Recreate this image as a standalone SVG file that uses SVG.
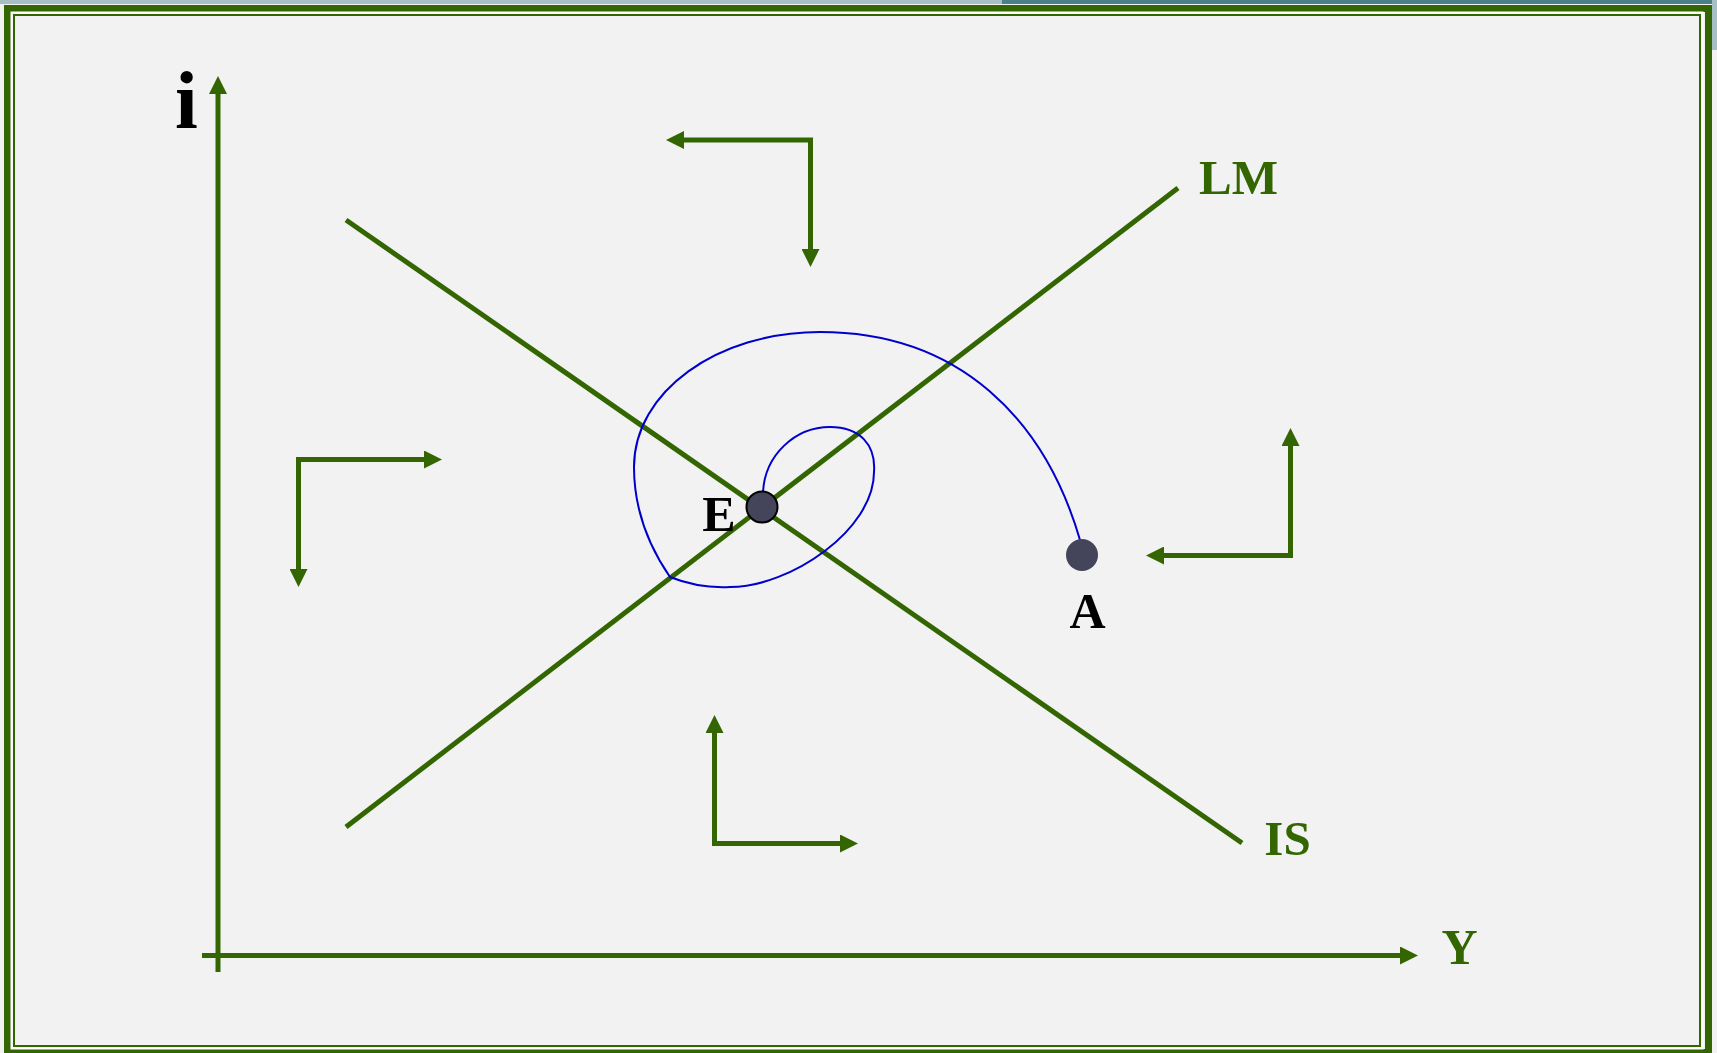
<svg xmlns="http://www.w3.org/2000/svg" width="1717" height="1053" viewBox="0 0 1717 1053">
<defs>
<style>
.ln{stroke:#336600;stroke-width:5;fill:none}
.arr{stroke:#336600;stroke-width:5;fill:none;marker-end:url(#ah)}
.arr2{stroke:#336600;stroke-width:5;fill:none;marker-start:url(#ah);marker-end:url(#ah)}
.lbl{font-family:"Liberation Serif","Times New Roman",serif;font-weight:bold;text-anchor:middle}
.g{fill:#336600}
.k{fill:#000000}
.dot{fill:#44445a}
</style>
<marker id="ah" viewBox="0 -9 18 18" refX="0" refY="0" markerWidth="18" markerHeight="18" markerUnits="userSpaceOnUse" orient="auto-start-reverse">
<path d="M0,-9 L18,0 L0,9 Z" fill="#336600"/>
</marker>
</defs>
<rect x="0" y="0" width="1717" height="1053" fill="#f2f2f2"/>
<rect x="0" y="0" width="1002" height="4" fill="#a5bfc4"/>
<rect x="1002" y="0" width="715" height="4" fill="#4a8089"/>
<rect x="1712" y="0" width="5" height="50" fill="#a5bfc4"/>
<g id="frame">
<rect x="7.5" y="8.5" width="1701" height="1044" fill="none" stroke="#336600" stroke-width="7"/>
<rect x="11.5" y="12.5" width="1691" height="1036" fill="none" stroke="#ffffff" stroke-width="2"/>
<rect x="14" y="15" width="1686" height="1031" fill="none" stroke="#336600" stroke-width="2"/>
</g>
<g id="axes">
<line class="arr" x1="218" y1="972" x2="218" y2="94"/>
<line class="arr" x1="202" y1="955.5" x2="1400" y2="955.5"/>
</g>
<g id="curves">
<line id="IS-curve" class="ln" x1="346" y1="220" x2="1242" y2="843"/>
<line id="LM-curve" class="ln" x1="346" y1="827" x2="1178" y2="188"/>
</g>
<g id="connectors">
<path id="adjust-path" d="M1080,540 C1045,420 960,332 820,332 C717,332 634,392 634,467 C634,510 648,545 670,577 C690,585 710,588 730,587 C790,587 874,530 874,472 C876,445 860,427 830,427 C795,427 765,455 763,492" fill="none" stroke="#0000cc" stroke-width="2"/>
<path id="arrows-top" class="arr2" d="M684,140 L810.5,140 L810.5,249"/>
<path id="arrows-left" class="arr2" d="M424,459.5 L298.5,459.5 L298.5,569"/>
<path id="arrows-right" class="arr2" d="M1290.5,446 L1290.5,555.5 L1164,555.5"/>
<path id="arrows-bottom" class="arr2" d="M714.5,733 L714.5,843.5 L840,843.5"/>
</g>
<g id="node-E">
<circle class="dot" cx="762" cy="507" r="15.5" stroke="#000" stroke-width="2"/>
<text class="lbl k" x="719" y="531" font-size="50">E</text>
</g>
<g id="node-A">
<circle class="dot" cx="1082" cy="555" r="16"/>
<text class="lbl k" x="1087.5" y="628" font-size="50">A</text>
</g>
<g id="labels">
<text class="lbl k" x="186.5" y="128" font-size="82">i</text>
<text class="lbl g" x="1238.5" y="194" font-size="49">LM</text>
<text class="lbl g" x="1287.5" y="855" font-size="49">IS</text>
<text class="lbl g" x="1459.5" y="964" font-size="50">Y</text>
</g>
</svg>
